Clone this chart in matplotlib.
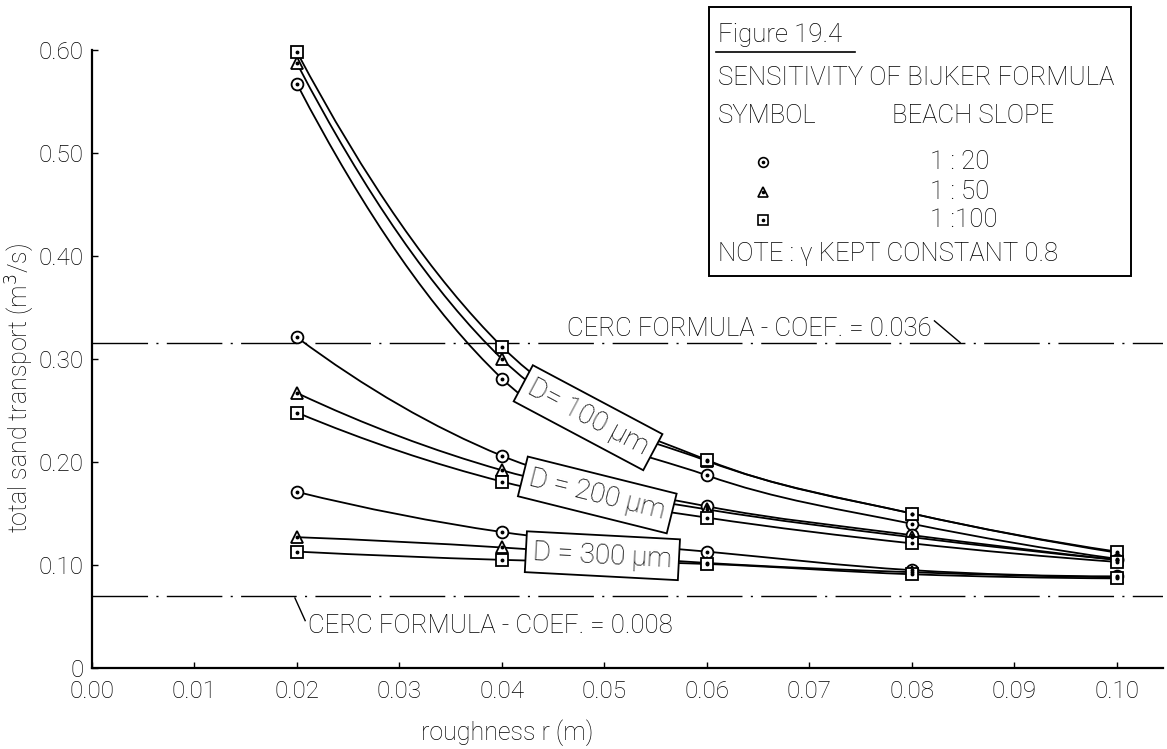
import numpy as np
import matplotlib
matplotlib.use("Agg")
import matplotlib.pyplot as plt
from matplotlib.path import Path
from matplotlib.patches import PathPatch, Rectangle
from matplotlib.lines import Line2D

plt.rcParams['font.family'] = ['Roboto', 'DejaVu Sans']
plt.rcParams['font.weight'] = 'light'

# ---- data -------------------------------------------------------------
roughness = [0.02, 0.04, 0.06, 0.08, 0.10]

# D = 100 um, beach slopes 1:20, 1:50, 1:100
d100_slope20 = [0.567, 0.281, 0.187, 0.140, 0.106]
d100_slope50 = [0.587, 0.300, 0.201, 0.150, 0.112]
d100_slope100 = [0.598, 0.312, 0.202, 0.150, 0.113]
# D = 200 um
d200_slope20 = [0.321, 0.206, 0.157, 0.129, 0.105]
d200_slope50 = [0.267, 0.192, 0.154, 0.127, 0.105]
d200_slope100 = [0.248, 0.181, 0.146, 0.121, 0.103]
# D = 300 um
d300_slope20 = [0.171, 0.132, 0.113, 0.095, 0.089]
d300_slope50 = [0.127, 0.117, 0.102, 0.093, 0.088]
d300_slope100 = [0.113, 0.105, 0.101, 0.091, 0.087]

cerc_values = [0.316, 0.070]
cerc_labels = ["CERC FORMULA - COEF. = 0.036", "CERC FORMULA - COEF. = 0.008"]

slope_labels = ["1 : 20", "1 : 50", "1 :100"]
slope_markers = ["o", "^", "s"]
grain_labels = ["D= 100 µm", "D = 200 µm", "D = 300 µm"]

x_ticks = [0.00, 0.01, 0.02, 0.03, 0.04, 0.05, 0.06, 0.07, 0.08, 0.09, 0.10]
x_ticklabels = ["0.00", "0.01", "0.02", "0.03", "0.04", "0.05", "0.06",
                "0.07", "0.08", "0.09", "0.10"]
y_ticks = [0.0, 0.1, 0.2, 0.3, 0.4, 0.5, 0.6]
y_ticklabels = ["0", "0.10", "0.20", "0.30", "0.40", "0.50", "0.60"]

groups = [
    [d100_slope20, d100_slope50, d100_slope100],
    [d200_slope20, d200_slope50, d200_slope100],
    [d300_slope20, d300_slope50, d300_slope100],
]

# ---- figure -----------------------------------------------------------
W, H = 1167, 749
fig = plt.figure(figsize=(W / 100, H / 100), dpi=100)


def fx(px):
    return px / W


def fy(py):
    return 1 - py / H


ax = fig.add_axes([fx(92), fy(668), fx(1163) - fx(92), fy(29.4) - fy(668)])
ax.set_xlim(0, 0.1045)
ax.set_ylim(0, 0.62)

for side in ("top", "right"):
    ax.spines[side].set_visible(False)
ax.spines["left"].set_bounds(0, 0.6)
ax.spines["left"].set_linewidth(1.6)
ax.spines["bottom"].set_linewidth(1.6)

ax.set_xticks(x_ticks)
ax.set_xticklabels(x_ticklabels)
ax.set_yticks(y_ticks)
ax.set_yticklabels(y_ticklabels)
ax.tick_params(direction="in", length=4, width=1.0, labelsize=17.5)
ax.tick_params(axis="x", pad=9)
ax.tick_params(axis="y", pad=6)


def smooth_path(xs, ys):
    """Cubic Bezier path through the points (Hermite tangents)."""
    xs = np.asarray(xs, float)
    ys = np.asarray(ys, float)
    d = np.diff(ys) / np.diff(xs)
    m = np.empty(len(xs))
    m[1:-1] = (d[:-1] + d[1:]) / 2
    m[0] = 2 * d[0] - m[1]
    m[-1] = 2 * d[-1] - m[-2]
    verts = [(xs[0], ys[0])]
    codes = [Path.MOVETO]
    for i in range(len(xs) - 1):
        h = xs[i + 1] - xs[i]
        verts += [(xs[i] + h / 3, ys[i] + m[i] * h / 3),
                  (xs[i + 1] - h / 3, ys[i + 1] - m[i + 1] * h / 3),
                  (xs[i + 1], ys[i + 1])]
        codes += [Path.CURVE4] * 3
    return Path(verts, codes)


for series in groups:
    for values, mk in zip(series, slope_markers):
        ax.add_patch(PathPatch(smooth_path(roughness, values), fc="none",
                               ec="black", lw=1.3, zorder=2))
        ax.plot(roughness, values, ls="none", marker=mk, ms=8.5,
                mfc="white", mec="black", mew=1.3, zorder=5, clip_on=False)
        ax.plot(roughness, values, ls="none", marker="o", ms=1.8,
                mfc="black", mec="black", zorder=6, clip_on=False)

# grain size labels in boxes along the curves
label_pos = [(0.0484, 0.243, -28), (0.0493, 0.168, -14), (0.0498, 0.109, -3)]
for text, (lx, ly, rot) in zip(grain_labels, label_pos):
    ax.text(lx, ly, text, rotation=rot, rotation_mode="anchor", ha="center",
            va="center", fontsize=20, zorder=4,
            bbox=dict(boxstyle="square,pad=0.25", fc="white", ec="black", lw=1.3))

# CERC reference lines
dashdot = (0, (40, 6, 1.5, 6))
for v in cerc_values:
    ax.plot([0, 0.1045], [v, v], color="black", lw=1.0, ls=dashdot, zorder=1)

ax.text(0.0463, cerc_values[0] + 0.006, cerc_labels[0], fontsize=18.5,
        ha="left", va="baseline", zorder=3)
ax.plot([0.0822, 0.0847], [cerc_values[0] + 0.021, cerc_values[0]],
        color="black", lw=1.0, zorder=3)

ax.plot([0.0198, 0.0208], [cerc_values[1] - 0.002, cerc_values[1] - 0.024],
        color="black", lw=1.0, zorder=3)
ax.text(0.0211, cerc_values[1] - 0.029, cerc_labels[1], fontsize=18.5,
        ha="left", va="center", zorder=3)

# axis titles
fig.text(fx(20), fy(388), "total sand transport (m$^3$/s)", rotation=90,
         ha="center", va="center", fontsize=18)
fig.text(fx(507), fy(733), "roughness r (m)", ha="center", va="center",
         fontsize=18)

# caption box
fig.add_artist(Rectangle((fx(709), fy(276)), fx(1131) - fx(709),
                         fy(7) - fy(276), transform=fig.transFigure,
                         fc="white", ec="black", lw=1.4, zorder=10))
fig.text(fx(718), fy(35), "Figure 19.4", fontsize=18.5, ha="left",
         va="center", zorder=11)
fig.add_artist(Line2D([fx(716), fx(855)], [fy(52), fy(52)],
                      transform=fig.transFigure, color="black", lw=1.2,
                      zorder=11))
fig.text(fx(718), fy(78), "SENSITIVITY OF BIJKER FORMULA", fontsize=18.5,
         ha="left", va="center", zorder=11)
fig.text(fx(718), fy(116), "SYMBOL", fontsize=18.5, ha="left", va="center",
         zorder=11)
fig.text(fx(892), fy(116), "BEACH SLOPE", fontsize=18.5, ha="left",
         va="center", zorder=11)
for row_y, mk, lab in zip([162, 192, 220], slope_markers, slope_labels):
    fig.add_artist(Line2D([fx(763)], [fy(row_y)], transform=fig.transFigure,
                          ls="none", marker=mk, ms=7, mfc="white",
                          mec="black", mew=1.2, zorder=11))
    fig.add_artist(Line2D([fx(763)], [fy(row_y)], transform=fig.transFigure,
                          ls="none", marker="o", ms=1.6, mfc="black",
                          mec="black", zorder=12))
    fig.text(fx(930), fy(row_y), lab, fontsize=18.5, ha="left", va="center",
             zorder=11)
fig.text(fx(718), fy(254), "NOTE : γ KEPT CONSTANT 0.8", fontsize=18.5,
         ha="left", va="center", zorder=11)

fig.savefig("out.png", dpi=100)
